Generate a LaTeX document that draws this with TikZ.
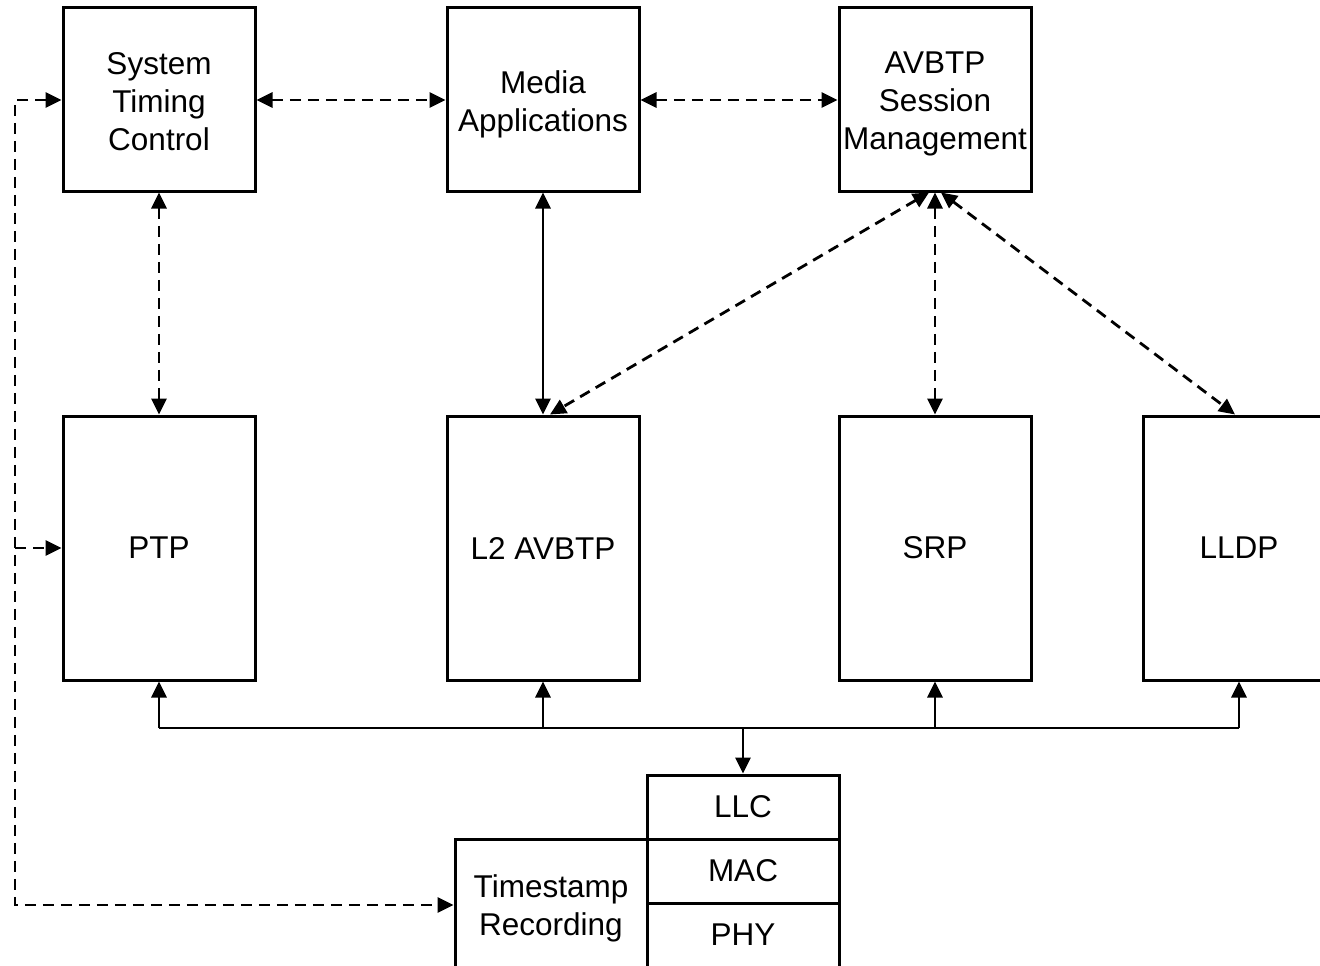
\documentclass[tikz,border=0pt]{standalone}
\usepackage{fontspec}
\setmainfont{Liberation Sans}
\usetikzlibrary{arrows.meta}
\newcommand{\lowered}[2]{\raisebox{-#1}[\height][\depth]{\parbox{190pt}{\centering #2}}}
\begin{document}
\begin{tikzpicture}[x=1pt,y=-1pt,
  box/.style={draw,line width=3pt,inner sep=0pt,align=center,
    minimum width=192pt,font=\fontsize{31.5}{38}\selectfont},
  tall/.style={box,minimum height=264pt},
  short/.style={box,minimum height=183pt},
  layer/.style={box,minimum height=64pt},
  conn/.style={line width=2.8pt},
  dsh/.style={conn,dash pattern=on 11pt off 7pt},
  tip/.style={-{Triangle[length=16pt,width=15pt]}},
  tips/.style={{Triangle[length=16pt,width=15pt]}-{Triangle[length=16pt,width=15pt]}}]
\clip (0,0) rectangle (1320,966);
\fill[white] (0,0) rectangle (1320,966);
% top row
\node[short] (stc) at (159,99.5) {\lowered{2pt}{System\\Timing\\Control}};
\node[short] (ma) at (543,99.5) {\lowered{5pt}{Media\\Applications}};
\node[short] (sm) at (935,99.5) {\lowered{4pt}{AVBTP\\Session\\Management}};
% middle row
\node[tall] (ptp) at (159,548) {PTP};
\node[tall] (l2) at (543,548) {L2 AVBTP};
\node[tall] (srp) at (935,548) {SRP};
\node[tall] (lldp) at (1239,548) {LLDP};
% bottom
\node[box,minimum height=132pt] (ts) at (551,905) {\lowered{3pt}{Timestamp\\Recording}};
\node[layer] (llc) at (743,807) {LLC};
\node[layer] (mac) at (743,871) {MAC};
\node[layer] (phy) at (743,935) {PHY};
% top connectors
\draw[dsh,tips] (stc.east |- 0,100) -- (ma.west |- 0,100);
\draw[dsh,tips] (ma.east |- 0,100) -- (sm.west |- 0,100);
\draw[dsh,tips] (stc.south) -- (ptp.north);
\draw[conn,tips] (ma.south) -- (l2.north);
\draw[dsh,tips] ([xshift=-6pt]sm.south) -- ([xshift=7pt]l2.north);
\draw[dsh,tips] (sm.south) -- (srp.north);
\draw[dsh,tips] ([xshift=6pt]sm.south) -- ([xshift=-4pt]lldp.north);
% left timing loop
\coordinate (lt) at (15,100);
\coordinate (lb) at (15,905);
\coordinate (lm) at (15,548);
\draw[dsh,tips] (stc.west |- lt) -- (lt) -- (lb) -- (ts.west |- lb);
\draw[dsh,tip] (lm) -- (ptp.west |- lm);
% bus
\coordinate (b1) at (159,728);
\coordinate (b2) at (543,728);
\coordinate (b3) at (935,728);
\coordinate (b4) at (1239,728);
\coordinate (bm) at (743,728);
\draw[conn] (b1) -- (b4);
\draw[conn,tip] (b1) -- (ptp.south);
\draw[conn,tip] (b2) -- (l2.south);
\draw[conn,tip] (b3) -- (srp.south);
\draw[conn,tip] (b4) -- (lldp.south);
\draw[conn,tip] (bm) -- (llc.north);
\end{tikzpicture}
\end{document}
